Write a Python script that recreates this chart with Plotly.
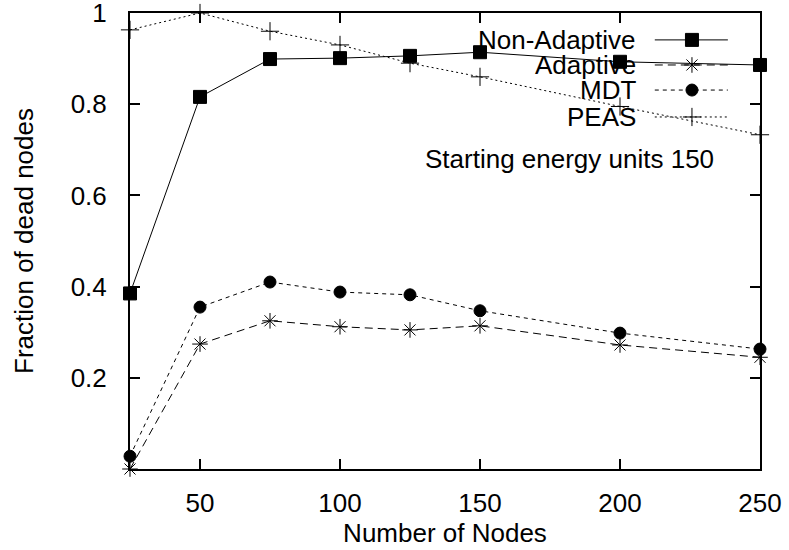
import plotly.graph_objects as go

# Network sizes and fraction of dead nodes per scheme
nodes = [25, 50, 75, 100, 125, 150, 200, 250]
non_adaptive = [0.385, 0.816, 0.899, 0.901, 0.906, 0.914, 0.893, 0.886]
adaptive = [0.0, 0.274, 0.325, 0.312, 0.305, 0.314, 0.272, 0.245]
mdt = [0.028, 0.355, 0.41, 0.388, 0.382, 0.347, 0.298, 0.263]
peas = [0.963, 1.0, 0.96, 0.93, 0.89, 0.86, 0.795, 0.733]

series_names = ["Non-Adaptive", "Adaptive", "MDT", "PEAS"]
series_values = [non_adaptive, adaptive, mdt, peas]

x_ticks = [50, 100, 150, 200, 250]
y_ticks = [0.2, 0.4, 0.6, 0.8, 1.0]
y_tick_text = ["0.2", "0.4", "0.6", "0.8", "1"]

FONT = "Liberation Sans, Arial, sans-serif"
FS = 26

styles = [
    dict(dash="solid", symbol="square", size=13),
    dict(dash="8px,5px", symbol="asterisk-open", size=13),
    dict(dash="4px,4px", symbol="circle", size=12),
    dict(dash="2px,3px", symbol="cross-thin-open", size=13),
]

fig = go.Figure()

for name, vals, st in zip(series_names, series_values, styles):
    fig.add_trace(go.Scatter(
        x=nodes, y=vals, name=name, mode="lines+markers",
        line=dict(color="black", width=1, dash=st["dash"]),
        marker=dict(symbol=st["symbol"], size=st["size"], color="black",
                    line=dict(color="black", width=1)),
        cliponaxis=False, showlegend=False,
    ))

# Key: label on the left, line sample with point symbol on the right
key_rows = [0.941, 0.886, 0.831, 0.772]
key_x0, key_xm, key_x1, key_text_x = 0.833, 0.892, 0.949, 0.806
for name, st, ky in zip(series_names, styles, key_rows):
    fig.add_trace(go.Scatter(
        x=[key_x0, key_x1], y=[ky, ky], mode="lines", xaxis="x2", yaxis="y2",
        line=dict(color="black", width=1, dash=st["dash"]), showlegend=False,
        hoverinfo="skip",
    ))
    fig.add_trace(go.Scatter(
        x=[key_xm], y=[ky], mode="markers", xaxis="x2", yaxis="y2",
        marker=dict(symbol=st["symbol"], size=st["size"], color="black",
                    line=dict(color="black", width=1)),
        showlegend=False, hoverinfo="skip",
    ))
    fig.add_annotation(
        x=key_text_x, y=ky, xref="x2", yref="y2", text=name, showarrow=False,
        xanchor="right", yanchor="middle", font=dict(family=FONT, size=FS, color="black"),
    )

fig.add_annotation(
    x=0.698, y=0.68, xref="x2", yref="y2", text="Starting energy units 150",
    showarrow=False, xanchor="center", yanchor="middle",
    font=dict(family=FONT, size=FS, color="black"),
)

axis_common = dict(
    showline=True, linecolor="black", linewidth=2, mirror="ticks",
    ticks="inside", ticklen=10, tickwidth=1.5, tickcolor="black",
    showgrid=False, zeroline=False, automargin=False,
    ticklabeloverflow="allow",
    tickfont=dict(family=FONT, size=FS, color="black"),
)

fig.update_layout(
    width=789, height=550,
    margin=dict(l=130, r=29, t=13, b=81),
    paper_bgcolor="white", plot_bgcolor="white",
    font=dict(family=FONT, size=FS, color="black"),
    xaxis=dict(
        range=[25, 250], tickvals=x_ticks, ticklabelstandoff=10,
        title=dict(text="Number of Nodes", font=dict(family=FONT, size=FS), standoff=6),
        **axis_common,
    ),
    yaxis=dict(
        range=[0, 1], tickvals=y_ticks, ticktext=y_tick_text, ticklabelstandoff=16,
        title=dict(text="Fraction of dead nodes", font=dict(family=FONT, size=FS), standoff=30),
        **axis_common,
    ),
    xaxis2=dict(range=[0, 1], overlaying="x", visible=False, fixedrange=True),
    yaxis2=dict(range=[0, 1], overlaying="y", visible=False, fixedrange=True),
)

fig.write_html("out.html")
